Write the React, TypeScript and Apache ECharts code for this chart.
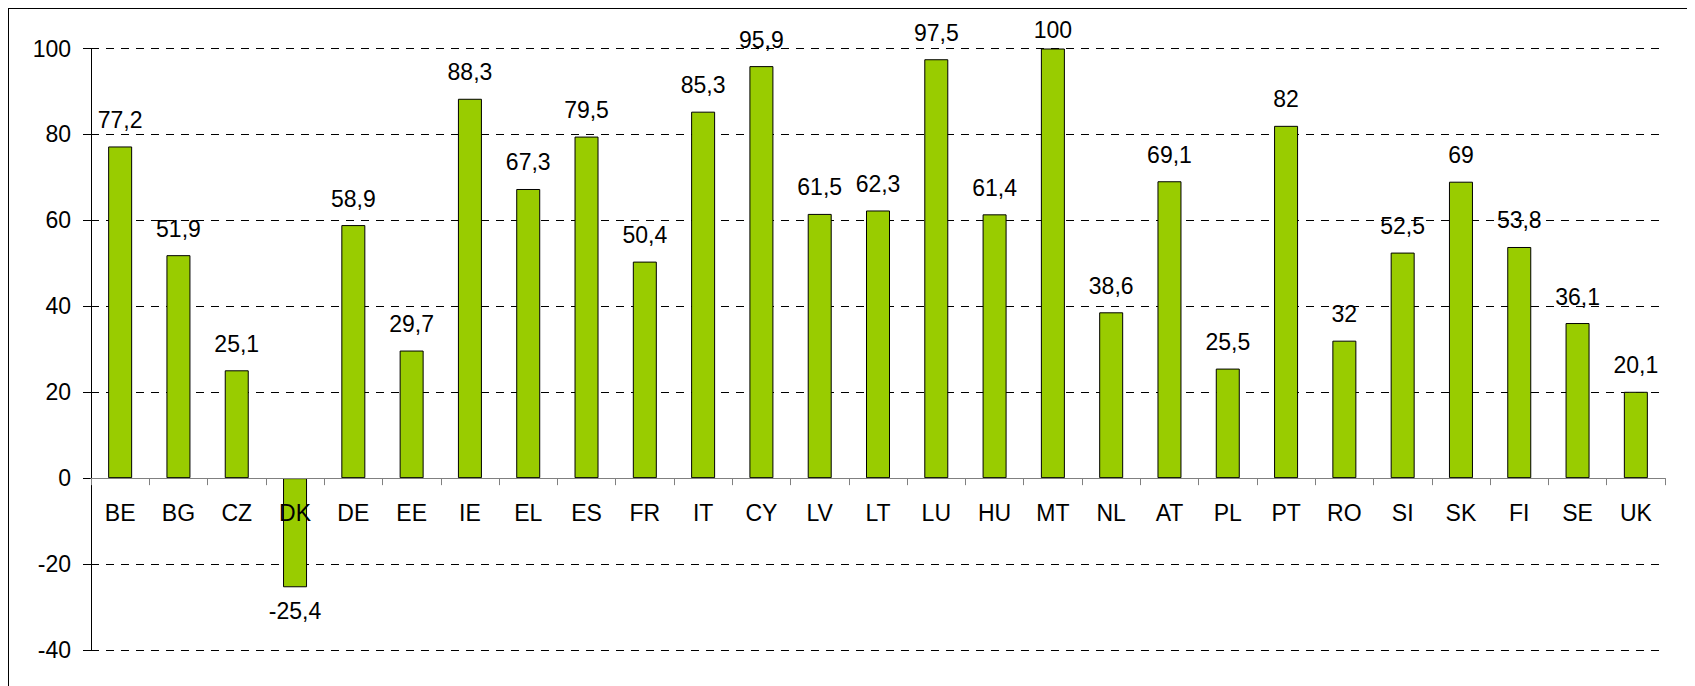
import React, { useEffect, useRef } from "react";
import * as echarts from "echarts";

const categories = ["BE","BG","CZ","DK","DE","EE","IE","EL","ES","FR","IT","CY","LV","LT","LU","HU","MT","NL","AT","PL","PT","RO","SI","SK","FI","SE","UK"];
const values = [77.2,51.9,25.1,-25.4,58.9,29.7,88.3,67.3,79.5,50.4,85.3,95.9,61.5,62.3,97.5,61.4,100,38.6,69.1,25.5,82,32,52.5,69,53.8,36.1,20.1];
const yMin = -40;
const yMax = 100;
const yInterval = 20;

const FONT = "'Liberation Sans', Arial, sans-serif";
const GRID_H = 601.5;

export default function App() {
  const ref = useRef<HTMLDivElement>(null);
  useEffect(() => {
    document.body.style.overflow = "hidden";
    if (!ref.current) return;
    const chart = echarts.init(ref.current, null, { renderer: "svg" });
    const fmt = (v: number) => String(v).replace(".", ",");
    const data = values.map((v) => {
      if (v < 0) {
        return { value: v, label: { position: "bottom", distance: 12 } };
      }
      if (v >= yMax) {
        return { value: v, label: { distance: 7 } };
      }
      return v;
    });
    const zeroOffset = -GRID_H * (0 - yMin) / (yMax - yMin);
    chart.setOption({
      animation: false,
      grid: { left: 82, top: 39.5, width: 1574, height: GRID_H, containLabel: false, outerBoundsMode: "none" },
      xAxis: {
        type: "category",
        data: categories,
        boundaryGap: true,
        position: "bottom",
        offset: zeroOffset,
        z: 5,
        axisLine: { onZero: false, lineStyle: { color: "#808080", width: 1 } },
        axisTick: { show: true, length: 7, inside: false, lineStyle: { color: "#808080" } },
        axisLabel: { fontFamily: FONT, fontSize: 23, color: "#000", margin: 23, interval: 0 },
        splitLine: { show: false },
      },
      yAxis: {
        type: "value",
        min: yMin,
        max: yMax,
        interval: yInterval,
        axisLine: { show: true, lineStyle: { color: "#000", width: 1 } },
        axisTick: { show: true, length: 8, lineStyle: { color: "#000" } },
        axisLabel: { fontFamily: FONT, fontSize: 23, color: "#000", margin: 20 },
        splitLine: { show: true, lineStyle: { color: "#000", width: 1, type: [8, 7] } },
      },
      series: [
        {
          type: "bar",
          data,
          barWidth: 24,
          z: 2,
          itemStyle: { color: "#99CC00", borderColor: "#000", borderWidth: 1 },
          label: {
            show: true,
            position: "top",
            distance: 15,
            fontFamily: FONT,
            fontSize: 23,
            color: "#000",
            formatter: (p: any) => fmt(p.value),
          },
        },
      ],
    });
    return () => chart.dispose();
  }, []);
  return (
    <div style={{ width: 1687, height: 678, borderLeft: "1px solid #000", borderTop: "1px solid #000", boxSizing: "border-box" }}>
      <div ref={ref} style={{ width: 1686, height: 677 }} />
    </div>
  );
}
